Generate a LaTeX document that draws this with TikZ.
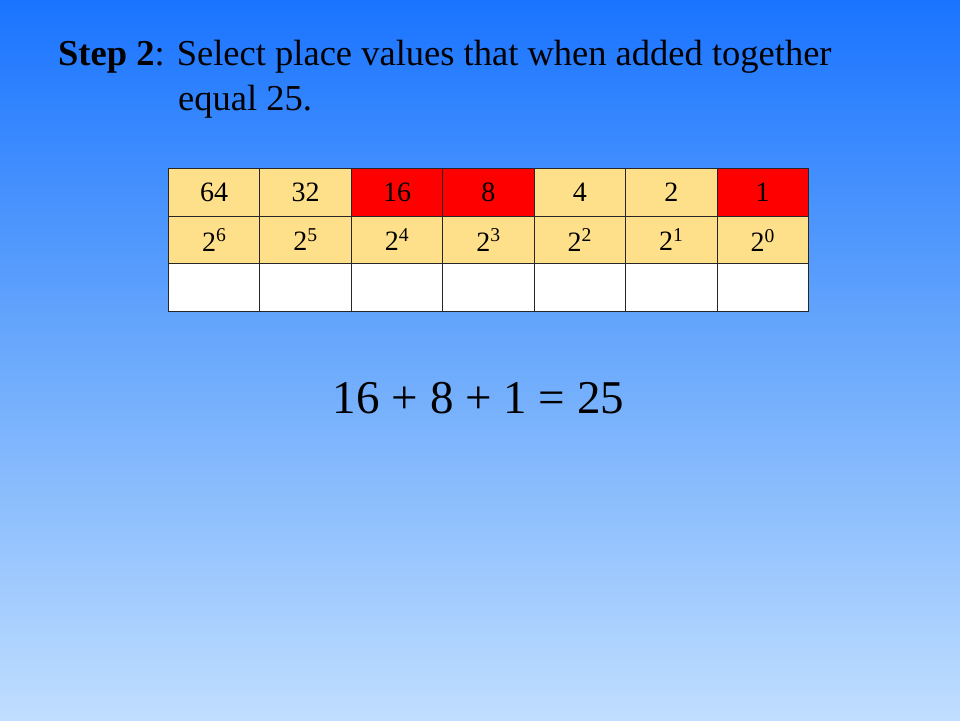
\documentclass[tikz,border=0pt]{standalone}
\usepackage{fontspec}
\setmainfont{Liberation Serif}
\definecolor{bgtop}{RGB}{26,116,255}
\definecolor{bgmid}{RGB}{108,170,252}
\definecolor{bgbot}{RGB}{192,222,255}
\definecolor{cellyel}{RGB}{255,224,138}
\definecolor{cellred}{RGB}{255,0,0}
\tikzset{
  cellbox/.style={draw=black!85, line width=0.9pt, minimum width=91.43pt, minimum height=47.7pt, inner sep=0pt, anchor=north west, font=\fontsize{28}{32}\selectfont},
  yel/.style={cellbox, fill=cellyel},
  redc/.style={cellbox, fill=cellred},
  wht/.style={cellbox, fill=white},
  titletext/.style={anchor=base west, inner sep=0pt, font=\fontsize{36.5}{42}\selectfont},
}
\begin{document}
\begin{tikzpicture}[x=1pt,y=-1pt]
\useasboundingbox (0,0) rectangle (960,720);
\shade[top color=bgtop, bottom color=bgbot, middle color=bgmid] (0,0) rectangle (960,720);
% title
\node[titletext] (title1) at (58,65) {\textbf{Step 2}: Select place values that when added together};
\node[titletext] (title2) at (178,110) {equal 25.};
% table row 1
\node[yel]  (r1c1) at (168.00,168) {64};
\node[yel]  (r1c2) at (259.43,168) {32};
\node[redc] (r1c3) at (350.86,168) {16};
\node[redc] (r1c4) at (442.29,168) {8};
\node[yel]  (r1c5) at (533.71,168) {4};
\node[yel]  (r1c6) at (625.14,168) {2};
\node[redc] (r1c7) at (716.57,168) {1};
% row 2
\node[yel] (r2c1) at (168.00,215.7) {2\textsuperscript{6}};
\node[yel] (r2c2) at (259.43,215.7) {2\textsuperscript{5}};
\node[yel] (r2c3) at (350.86,215.7) {2\textsuperscript{4}};
\node[yel] (r2c4) at (442.29,215.7) {2\textsuperscript{3}};
\node[yel] (r2c5) at (533.71,215.7) {2\textsuperscript{2}};
\node[yel] (r2c6) at (625.14,215.7) {2\textsuperscript{1}};
\node[yel] (r2c7) at (716.57,215.7) {2\textsuperscript{0}};
% row 3
\node[wht] (r3c1) at (168.00,263.4) {};
\node[wht] (r3c2) at (259.43,263.4) {};
\node[wht] (r3c3) at (350.86,263.4) {};
\node[wht] (r3c4) at (442.29,263.4) {};
\node[wht] (r3c5) at (533.71,263.4) {};
\node[wht] (r3c6) at (625.14,263.4) {};
\node[wht] (r3c7) at (716.57,263.4) {};
% equation
\node[anchor=base, inner sep=0pt, font=\fontsize{47}{54}\selectfont] (eq) at (478.5,413) {16 + 8 + 1 = 25};
\end{tikzpicture}
\end{document}
